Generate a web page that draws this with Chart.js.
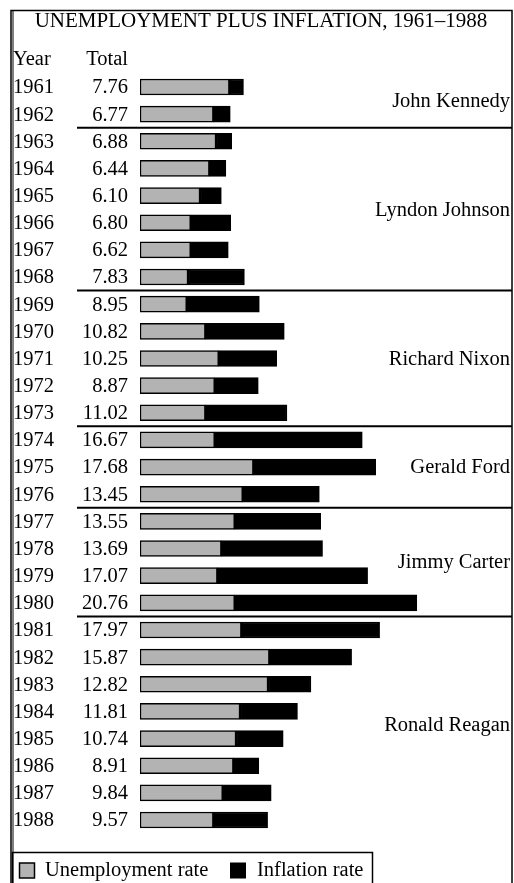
<!DOCTYPE html>
<html><head><meta charset="utf-8">
<script src="https://cdn.jsdelivr.net/npm/chart.js@4"></script>
<style>html,body{margin:0;padding:0;background:#fff;}#wrap{width:514px;height:883px;}</style>
</head><body><div id="wrap"><canvas id="c" width="514" height="883"></canvas></div>
<script>
const title = "UNEMPLOYMENT PLUS INFLATION, 1961\u20131988";
const years = ["1961","1962","1963","1964","1965","1966","1967","1968","1969","1970","1971","1972","1973","1974","1975","1976","1977","1978","1979","1980","1981","1982","1983","1984","1985","1986","1987","1988"];
const totals = ["7.76","6.77","6.88","6.44","6.10","6.80","6.62","7.83","8.95","10.82","10.25","8.87","11.02","16.67","17.68","13.45","13.55","13.69","17.07","20.76","17.97","15.87","12.82","11.81","10.74","8.91","9.84","9.57"];
const unemployment = [6.7,5.5,5.7,5.2,4.5,3.8,3.8,3.6,3.5,4.9,5.9,5.6,4.9,5.6,8.5,7.7,7.1,6.1,5.8,7.1,7.6,9.7,9.6,7.5,7.2,7.0,6.2,5.5];
const inflation = [1.06,1.27,1.18,1.24,1.60,3.00,2.82,4.23,5.45,5.92,4.35,3.27,6.12,11.07,9.18,5.75,6.45,7.59,11.27,13.66,10.37,6.17,3.22,4.31,3.54,1.91,3.64,4.07];
const presidents = ["John Kennedy","Lyndon Johnson","Richard Nixon","Gerald Ford","Jimmy Carter","Ronald Reagan"];
const presidentFirstYear = ["1961","1963","1969","1974","1977","1981"];
const presidentLastYear = ["1962","1968","1973","1976","1980","1988"];

const SERIF = '"Liberation Serif", "Times New Roman", serif';
const GRAY = '#b3b3b3';

const overlay = {
  id: 'overlay',
  afterDraw(chart) {
    const ctx = chart.ctx;
    const y = chart.scales.y;
    const rowPx = i => y.getPixelForValue(i);
    ctx.save();
    // frame
    ctx.strokeStyle = '#000';
    ctx.lineWidth = 1.5;
    ctx.strokeRect(11, 10.5, 501, 890);
    ctx.beginPath(); ctx.moveTo(13, 10); ctx.lineTo(13, 883); ctx.lineWidth = 1; ctx.stroke();
    // title
    ctx.fillStyle = '#000';
    ctx.textBaseline = 'middle';
    ctx.font = '21px ' + SERIF;
    ctx.textAlign = 'center';
    ctx.fillText(title, 261, 21);
    // headers
    ctx.font = '20.5px ' + SERIF;
    ctx.textAlign = 'left';
    ctx.fillText('Year', 13, 60);
    ctx.textAlign = 'right';
    ctx.fillText('Total', 128, 60);
    // rows
    years.forEach((yr, i) => {
      const py = rowPx(i) + 1;
      ctx.textAlign = 'left';
      ctx.fillText(yr, 13, py);
      ctx.textAlign = 'right';
      ctx.fillText(totals[i], 128, py);
    });
    // presidents
    presidents.forEach((name, k) => {
      const a = years.indexOf(presidentFirstYear[k]);
      const b = years.indexOf(presidentLastYear[k]);
      const py = (rowPx(a) + rowPx(b)) / 2 + 1;
      ctx.textAlign = 'right';
      ctx.fillText(name, 510, py);
      if (k < presidents.length - 1) {
        const sy = (rowPx(b) + rowPx(b + 1)) / 2;
        ctx.beginPath();
        ctx.lineWidth = 2;
        ctx.moveTo(77, sy); ctx.lineTo(512, sy);
        ctx.stroke();
      }
    });
    // legend
    ctx.lineWidth = 1.5;
    ctx.strokeRect(12.5, 852.5, 360, 40);
    const ly = 870;
    const ds = chart.data.datasets;
    ctx.lineWidth = 1.5;
    ctx.fillStyle = ds[0].backgroundColor;
    ctx.fillRect(19.5, ly - 7, 15, 15);
    ctx.strokeRect(19.5, ly - 7, 15, 15);
    ctx.fillStyle = '#000';
    ctx.textAlign = 'left';
    ctx.fillText(ds[0].label, 45, ly + 1);
    ctx.fillRect(230, ly - 7.5, 16, 16);
    ctx.fillText(ds[1].label, 257, ly + 1);
    ctx.restore();
  }
};

new Chart(document.getElementById('c'), {
  type: 'bar',
  data: {
    labels: years,
    datasets: [
      { label: 'Unemployment rate', data: unemployment, backgroundColor: GRAY, borderColor: '#000', borderWidth: 1.5, borderSkipped: false },
      { label: 'Inflation rate', data: inflation, backgroundColor: '#000', borderColor: '#000', borderWidth: 1.5, borderSkipped: false }
    ]
  },
  options: {
    indexAxis: 'y',
    responsive: false,
    animation: false,
    devicePixelRatio: 1,
    layout: { padding: { left: 140, right: 14, top: 73.4, bottom: 49.4 } },
    datasets: { bar: { barThickness: 16 } },
    scales: {
      x: { stacked: true, min: 0, max: 27, display: false },
      y: { stacked: true, display: false }
    },
    plugins: { legend: { display: false }, tooltip: { enabled: false }, title: { display: false } }
  },
  plugins: [overlay]
});
</script>
</body></html>
